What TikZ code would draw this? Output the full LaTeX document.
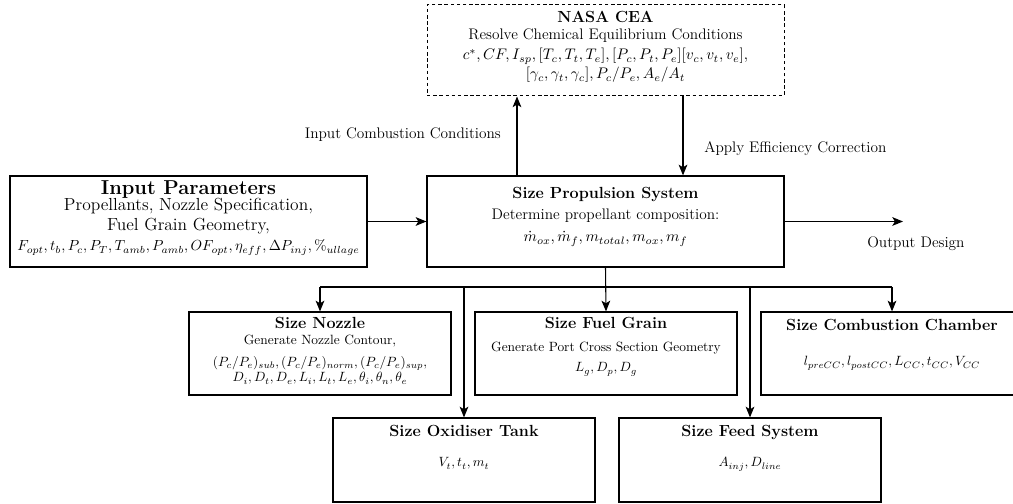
\IfFileExists{fix-cm.sty}{\RequirePackage{fix-cm}}{}
\documentclass[tikz,border=0pt]{standalone}
\usepackage{fontspec}
\usetikzlibrary{arrows.meta}
\newcommand{\pxlen}{0.745pt}
\tikzset{
  box/.style={draw, line width=0.9pt, rectangle, inner sep=0pt},
  cebox/.style={draw, line width=0.75pt, rectangle, inner sep=0pt, dash pattern=on 2.6pt off 2pt},
  arr/.style={line width=0.8pt, -{Stealth[length=8pt,width=6.5pt,inset=2pt]}},
  ln/.style={line width=0.8pt},
  txt/.style={inner sep=0pt, anchor=base},
  hsmall/.style={txt, font=\fontsize{12}{14}\selectfont\bfseries},
  bsmall/.style={txt, font=\fontsize{10}{12}\selectfont},
  hmid/.style={txt, font=\fontsize{12}{14}\selectfont\bfseries},
  bmid/.style={txt, font=\fontsize{11.4}{13.5}\selectfont},
  hbig/.style={txt, font=\fontsize{15}{18}\selectfont\bfseries},
  bbig/.style={txt, font=\fontsize{13}{16}\selectfont},
  mbig/.style={txt, font=\fontsize{10.9}{13.5}\selectfont},
  lbl/.style={inner sep=0pt, font=\fontsize{11.4}{13.5}\selectfont},
}
\begin{document}
\begin{tikzpicture}[x=0.745pt, y=-0.745pt]
\useasboundingbox (0,0) rectangle (1013,504);

% boxes
\node[cebox, minimum width=357*\pxlen, minimum height=91*\pxlen] (cea) at (605.5,50.5) {};
\node[box, minimum width=357*\pxlen, minimum height=91*\pxlen] (inp) at (188.5,221.5) {};
\node[box, minimum width=357*\pxlen, minimum height=91*\pxlen] (prop) at (605.5,221.5) {};
\node[box, minimum width=262*\pxlen, minimum height=83*\pxlen] (noz) at (320,353.5) {};
\node[box, minimum width=262*\pxlen, minimum height=83*\pxlen] (fuel) at (606,353.5) {};
\node[box, minimum width=262*\pxlen, minimum height=83*\pxlen] (cc) at (892,353.5) {};
\node[box, minimum width=262*\pxlen, minimum height=84*\pxlen] (ox) at (464,460) {};
\node[box, minimum width=262*\pxlen, minimum height=84*\pxlen] (feed) at (750,460) {};

% NASA CEA text
\node[hmid] (ceah) at (605.5,22.5) {NASA CEA};
\node[bmid] (ceab) at (605.5,40) {Resolve Chemical Equilibrium Conditions};
\node[bmid] (ceam1) at (605.5,60) {$c^*, CF, I_{sp}, [T_c, T_t, T_e], [P_c, P_t, P_e][v_c, v_t, v_e],$};
\node[bmid] (ceam2) at (605.5,79) {$[\gamma_c, \gamma_t, \gamma_c], P_c/P_e, A_e/A_t$};

% Input text
\node[hbig] (inph) at (188.5,195) {Input Parameters};
\node[bbig] (inpb1) at (188.5,211) {Propellants, Nozzle Specification,};
\node[bbig] (inpb2) at (188.5,231) {Fuel Grain Geometry,};
\node[mbig] (inpm) at (188.5,251) {$F_{opt}, t_b, P_c, P_T, T_{amb}, P_{amb}, OF_{opt}, \eta_{eff}, \Delta P_{inj}, \%_{ullage}$};

% Propulsion text
\node[hmid] (proph) at (605.5,198.5) {Size Propulsion System};
\node[bmid] (propb) at (605.5,220) {Determine propellant composition:};
\node[bmid] (propm) at (605.5,242) {$\dot{m}_{ox}, \dot{m}_f, m_{total}, m_{ox}, m_f$};

% Nozzle text
\node[hsmall] (nozh) at (320,328.5) {Size Nozzle};
\node[bsmall] (nozb) at (320,345) {Generate Nozzle Contour,};
\node[bsmall] (nozm1) at (320,366.5) {$(P_c/P_e)_{sub}, (P_c/P_e)_{norm}, (P_c/P_e)_{sup},$};
\node[bsmall] (nozm2) at (320,382) {$D_i, D_t, D_e, L_i, L_t, L_e, \theta_i, \theta_n, \theta_e$};

% Fuel grain text
\node[hsmall] (fuelh) at (606,328.5) {Size Fuel Grain};
\node[bsmall] (fuelb) at (606,351.5) {Generate Port Cross Section Geometry};
\node[bsmall] (fuelm) at (606,372) {$L_g, D_p, D_g$};

% Combustion chamber text
\node[hsmall] (cch) at (892,330.5) {Size Combustion Chamber};
\node[bsmall] (ccm) at (892,366) {$l_{preCC}, l_{postCC}, L_{CC}, t_{CC}, V_{CC}$};

% Oxidiser tank text
\node[hsmall] (oxh) at (464,436.5) {Size Oxidiser Tank};
\node[bsmall] (oxm) at (464,467) {$V_t, t_t, m_t$};

% Feed system text
\node[hsmall] (feedh) at (750,436.5) {Size Feed System};
\node[bsmall] (feedm) at (750,467) {$A_{inj}, D_{line}$};

% helper coordinates
\coordinate (upx) at (517,0);
\coordinate (dnx) at (683,0);
\coordinate (outend) at (903,221.5);
\coordinate (brL) at (320,287);
\coordinate (brR) at (892,287);
\coordinate (brox) at (464,287);
\coordinate (brfeed) at (750,287);

% connectors
\draw[arr] (inp.east) -- (prop.west);
\draw[arr] (prop.north -| upx) -- (cea.south -| upx);
\draw[arr] (cea.south -| dnx) -- (prop.north -| dnx);
\draw[arr] (prop.east) -- (outend);
\draw[arr] (prop.south) -- (fuel.north);
\draw[ln] (brL) -- (brR);
\draw[arr] (brL) -- (noz.north);
\draw[arr] (brR) -- (cc.north);
\draw[arr] (brox) -- (ox.north);
\draw[arr] (brfeed) -- (feed.north);

% labels
\node[lbl, anchor=base east] (lblin) at (501,139) {Input Combustion Conditions};
\node[lbl, anchor=base west] (lbleff) at (704,153) {Apply Efficiency Correction};
\node[lbl, anchor=base west] (lblout) at (867,248) {Output Design};
\end{tikzpicture}
\end{document}
